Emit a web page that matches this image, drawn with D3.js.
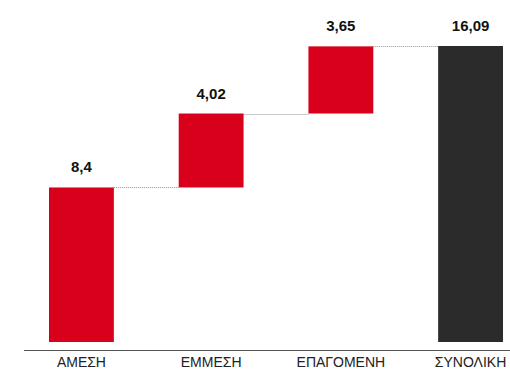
<!DOCTYPE html>
<html>
<head>
<meta charset="utf-8">
<script src="https://cdn.jsdelivr.net/npm/d3@7"></script>
<style>
  html, body { margin: 0; padding: 0; background: #fff; }
  svg { display: block; font-family: "Liberation Sans", Arial, sans-serif; }
</style>
</head>
<body>
<div id="chart"></div>
<script>
// Waterfall: three contributions stacked up to the total
const categories = ['ΑΜΕΣΗ', 'ΕΜΜΕΣΗ', 'ΕΠΑΓΟΜΕΝΗ', 'ΣΥΝΟΛΙΚΗ'];
const values = [8.4, 4.02, 3.65, 16.09];
const labels = ['8,4', '4,02', '3,65', '16,09'];
const isTotal = [false, false, false, true];

const width = 510, height = 375;
const RED = '#d9001b', DARK = '#2b2b2b';

const svg = d3.select('#chart').append('svg')
  .attr('width', width)
  .attr('height', height);

const x = d3.scaleBand()
  .domain(categories)
  .range([49, 503])
  .paddingInner(0.5)
  .paddingOuter(0);

const y = d3.scaleLinear()
  .domain([0, 16.09])
  .range([342, 46]);

// running start/end for each step
let acc = 0;
const steps = categories.map((c, i) => {
  let y0, y1;
  if (isTotal[i]) { y0 = 0; y1 = values[i]; }
  else { y0 = acc; y1 = acc + values[i]; acc = y1; }
  return { cat: c, y0, y1, label: labels[i], total: isTotal[i] };
});

// dotted connectors between bars
svg.append('g')
  .selectAll('line')
  .data(steps.slice(0, -1))
  .join('line')
  .attr('x1', d => x(d.cat) + x.bandwidth())
  .attr('x2', (d, i) => x(steps[i + 1].cat))
  .attr('y1', d => Math.round(y(d.y1)) + 0.5)
  .attr('y2', d => Math.round(y(d.y1)) + 0.5)
  .attr('stroke', '#999')
  .attr('stroke-width', 1)
  .attr('stroke-dasharray', '1,1');

svg.append('g')
  .selectAll('rect')
  .data(steps)
  .join('rect')
  .attr('x', d => x(d.cat))
  .attr('width', x.bandwidth())
  .attr('y', d => y(d.y1))
  .attr('height', d => y(d.y0) - y(d.y1))
  .attr('fill', d => d.total ? DARK : RED);

svg.append('g')
  .selectAll('text')
  .data(steps)
  .join('text')
  .attr('x', d => x(d.cat) + x.bandwidth() / 2)
  .attr('y', d => y(d.y1) - 15)
  .attr('text-anchor', 'middle')
  .attr('font-size', 15)
  .attr('font-weight', 'bold')
  .attr('fill', '#111')
  .text(d => d.label);

// bottom axis: long baseline plus category labels
const axis = svg.append('g')
  .attr('transform', 'translate(0,350)')
  .call(d3.axisBottom(x).tickSize(0).tickPadding(7));
axis.select('.domain').remove();
axis.selectAll('text')
  .attr('font-size', 14)
  .attr('font-family', '"Liberation Sans", Arial, sans-serif')
  .attr('fill', '#222');
axis.append('line')
  .attr('x1', 24).attr('x2', 510)
  .attr('y1', 0.5).attr('y2', 0.5)
  .attr('stroke', '#555');
</script>
</body>
</html>
